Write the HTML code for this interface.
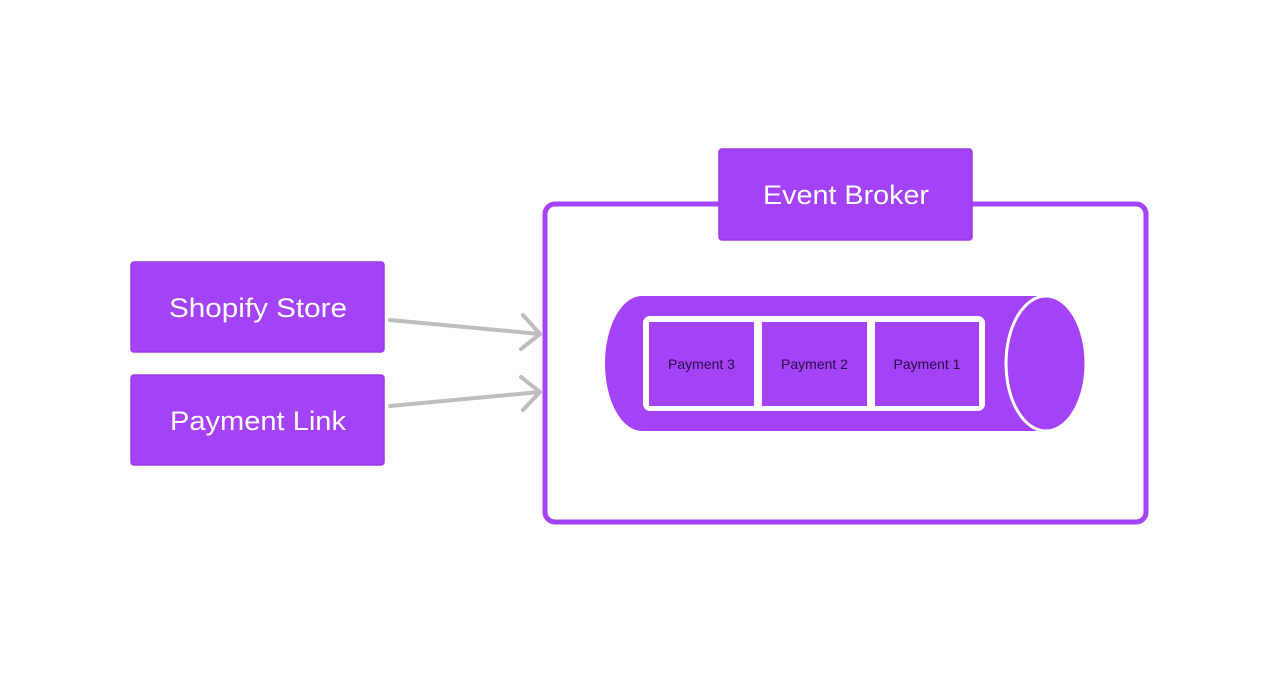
<!DOCTYPE html>
<html><head><meta charset="utf-8"><style>
html,body{margin:0;padding:0;background:#fff;width:1280px;height:674px;overflow:hidden}
text{font-family:"Liberation Sans",sans-serif}
</style></head><body>
<svg width="1280" height="674" viewBox="0 0 1280 674" xmlns="http://www.w3.org/2000/svg">
<rect x="545" y="204" width="601" height="318" rx="10" fill="#fff" stroke="#a342f7" stroke-width="5"/>
<rect x="719" y="149" width="253" height="91" rx="3" fill="#a342f7" stroke="#9a3be8" stroke-width="1.5"/>
<text x="763" y="204" font-size="27" fill="#fff" textLength="166" lengthAdjust="spacingAndGlyphs">Event Broker</text>
<rect x="131" y="262" width="253" height="90" rx="3" fill="#a342f7" stroke="#9a3be8" stroke-width="1.5"/>
<text x="169" y="317" font-size="27" fill="#fff" textLength="178" lengthAdjust="spacingAndGlyphs">Shopify Store</text>
<rect x="131" y="375" width="253" height="90" rx="3" fill="#a342f7" stroke="#9a3be8" stroke-width="1.5"/>
<text x="170" y="430" font-size="27" fill="#fff" textLength="176" lengthAdjust="spacingAndGlyphs">Payment Link</text>
<g stroke="#bdbdbd" stroke-width="4" fill="none" stroke-linecap="round" stroke-linejoin="round">
<line x1="390" y1="320" x2="540" y2="334"/>
<polyline points="523,315 540,334 521,349"/>
<line x1="390" y1="406" x2="540" y2="392"/>
<polyline points="521,377 540,392 523,410"/>
</g>
<path d="M642,296 L1046,296 L1046,431 L642,431 A37,67.5 0 0 1 642,296 Z" fill="#a342f7"/>
<ellipse cx="1046" cy="363.5" rx="40" ry="67.5" fill="#a342f7" stroke="#fff" stroke-width="3"/>
<rect x="643" y="316" width="342" height="95" rx="7" fill="#fff"/>
<rect x="649" y="322" width="105" height="84" fill="#a342f7"/>
<rect x="762" y="322" width="105" height="84" fill="#a342f7"/>
<rect x="875" y="322" width="104" height="84" fill="#a342f7"/>
<g font-size="14" fill="#2a0d44" text-anchor="middle">
<text x="701.5" y="369">Payment 3</text>
<text x="814.5" y="369">Payment 2</text>
<text x="927" y="369">Payment 1</text>
</g>
</svg>
</body></html>
